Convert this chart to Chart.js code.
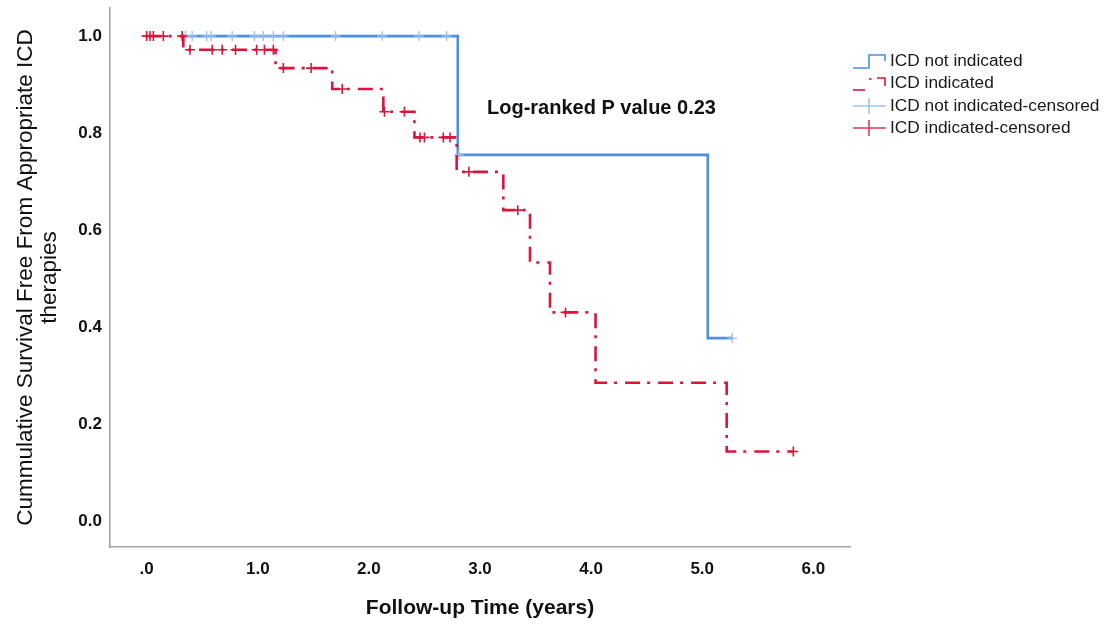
<!DOCTYPE html>
<html>
<head>
<meta charset="utf-8">
<script src="https://cdn.jsdelivr.net/npm/chart.js@4.4.0/dist/chart.umd.min.js"></script>
<style>
  html, body { margin: 0; padding: 0; background: #ffffff; }
  #wrap { width: 1106px; height: 624px; position: relative; }
</style>
</head>
<body>
<div id="wrap"><canvas id="c" width="1106" height="624"></canvas></div>
<script>
// ---- Data ----
const xTickValues = [0, 1, 2, 3, 4, 5, 6];
const xTickLabels = ['.0', '1.0', '2.0', '3.0', '4.0', '5.0', '6.0'];
const yTickValues = [0, 0.2, 0.4, 0.6, 0.8, 1.0];
const yTickLabels = ['0.0', '0.2', '0.4', '0.6', '0.8', '1.0'];

// ICD not indicated: step curve (time, survival after step)
const notIndTimes    = [0.32, 2.80, 5.05, 5.27];
const notIndSurvival = [1.000, 0.755, 0.377, 0.377];
// ICD not indicated: censored observations
const notIndCensTimes    = [0.32, 0.35, 0.41, 0.54, 0.58, 0.77, 0.97, 1.05, 1.14, 1.23, 1.70, 2.12, 2.45, 2.70, 2.81, 5.27];
const notIndCensSurvival = [1.000, 1.000, 1.000, 1.000, 1.000, 1.000, 1.000, 1.000, 1.000, 1.000, 1.000, 1.000, 1.000, 1.000, 0.755, 0.377];

// ICD indicated: step curve
const indTimes    = [0.00, 0.33, 1.16, 1.67, 2.13, 2.41, 2.79, 3.21, 3.45, 3.63, 4.04, 5.22, 5.82];
const indSurvival = [1.000, 0.972, 0.934, 0.891, 0.844, 0.791, 0.720, 0.641, 0.533, 0.430, 0.285, 0.143, 0.143];
// ICD indicated: censored observations
const indCensTimes    = [0.00, 0.03, 0.06, 0.15, 0.32, 0.39, 0.59, 0.68, 0.80, 0.99, 1.06, 1.14, 1.23, 1.48, 1.76, 2.14, 2.32, 2.46, 2.50, 2.67, 2.73, 2.90, 3.34, 3.77, 5.82];
const indCensSurvival = [1.000, 1.000, 1.000, 1.000, 1.000, 0.972, 0.972, 0.972, 0.972, 0.972, 0.972, 0.972, 0.934, 0.934, 0.891, 0.844, 0.844, 0.791, 0.791, 0.791, 0.791, 0.720, 0.641, 0.430, 0.143];

const legendLabels = ['ICD not indicated', 'ICD indicated', 'ICD not indicated-censored', 'ICD indicated-censored'];
const annotationText = 'Log-ranked P value 0.23';
const xTitle = 'Follow-up Time (years)';
const yTitle = ['Cummulative Survival Free From Appropriate ICD', 'therapies'];

// ---- Styles ----
const BLUE = '#4a90e2';
const BLUE_LIGHT = '#9ec2ef';
const RED = '#dc143c';
const AXIS = '#a3a3a3';
const FONT = '"Liberation Sans", Arial, Helvetica, sans-serif';

const zip = (xs, ys) => xs.map((x, i) => ({ x: x, y: ys[i] }));

// Legend + annotation plugin
const overlayPlugin = {
  id: 'overlay',
  afterDraw(chart) {
    const ctx = chart.ctx;
    ctx.save();
    // annotation
    ctx.fillStyle = '#111111';
    ctx.font = 'bold 20px ' + FONT;
    ctx.textBaseline = 'middle';
    ctx.textAlign = 'left';
    ctx.fillText(annotationText, 487, 108);

    // legend icons
    const rows = [61, 83, 106, 128];
    ctx.lineCap = 'butt';
    // blue step icon
    ctx.strokeStyle = BLUE; ctx.lineWidth = 1.6;
    ctx.beginPath();
    ctx.moveTo(853, 68); ctx.lineTo(869, 68); ctx.lineTo(869, 55); ctx.lineTo(885, 55); ctx.lineTo(885, 61);
    ctx.stroke();
    // red dash-dot step icon
    ctx.strokeStyle = RED; ctx.lineWidth = 1.6;
    ctx.beginPath(); ctx.moveTo(853, 90); ctx.lineTo(865, 90); ctx.stroke();
    ctx.beginPath(); ctx.moveTo(869, 79); ctx.lineTo(871.5, 79); ctx.stroke();
    ctx.beginPath(); ctx.moveTo(877, 78); ctx.lineTo(885, 78); ctx.lineTo(885, 86); ctx.stroke();
    // blue censored icon
    ctx.strokeStyle = BLUE_LIGHT; ctx.lineWidth = 1.6;
    ctx.beginPath(); ctx.moveTo(853, 106); ctx.lineTo(886, 106); ctx.moveTo(869, 98); ctx.lineTo(869, 114); ctx.stroke();
    // red censored icon
    ctx.strokeStyle = RED; ctx.lineWidth = 1.6;
    ctx.globalAlpha = 0.85;
    ctx.beginPath(); ctx.moveTo(853, 128); ctx.lineTo(886, 128); ctx.moveTo(869, 120); ctx.lineTo(869, 136); ctx.stroke();
    ctx.globalAlpha = 1;

    // legend text
    ctx.fillStyle = '#1a1a1a';
    ctx.font = '17.3px ' + FONT;
    legendLabels.forEach((t, i) => ctx.fillText(t, 890, rows[i]));
    ctx.restore();
  }
};

new Chart(document.getElementById('c'), {
  type: 'scatter',
  data: {
    datasets: [
      {
        label: legendLabels[0],
        data: zip(notIndTimes, notIndSurvival),
        showLine: true,
        stepped: 'before',
        borderColor: BLUE,
        borderWidth: 2.6,
        pointRadius: 0,
        fill: false,
        order: 4
      },
      {
        label: legendLabels[2],
        data: zip(notIndCensTimes, notIndCensSurvival),
        showLine: false,
        pointStyle: 'cross',
        pointRadius: 5,
        borderColor: BLUE_LIGHT,
        backgroundColor: BLUE_LIGHT,
        pointBorderWidth: 1.4,
        order: 3
      },
      {
        label: legendLabels[1],
        data: zip(indTimes, indSurvival),
        showLine: true,
        stepped: 'before',
        borderColor: RED,
        borderWidth: 2.6,
        borderDash: [15, 7, 3, 8],
        borderCapStyle: 'butt',
        pointRadius: 0,
        fill: false,
        order: 2
      },
      {
        label: legendLabels[3],
        data: zip(indCensTimes, indCensSurvival),
        showLine: false,
        pointStyle: 'cross',
        pointRadius: 5,
        borderColor: RED,
        backgroundColor: RED,
        pointBorderWidth: 1.6,
        order: 1
      }
    ]
  },
  options: {
    responsive: false,
    animation: false,
    events: [],
    layout: { padding: { left: 0, right: 256, top: 8, bottom: 0 } },
    plugins: {
      legend: { display: false },
      tooltip: { enabled: false }
    },
    elements: { point: { hoverRadius: 0 } },
    scales: {
      x: {
        type: 'linear',
        min: -0.33,
        max: 6.33,
        afterBuildTicks: (s) => { s.ticks = xTickValues.map(v => ({ value: v })); },
        afterFit: (s) => { s.height = 77; s.paddingLeft = 0; s.paddingRight = 0; },
        grid: { display: false, drawTicks: false, tickLength: 0 },
        border: { display: true, color: AXIS, width: 1.6 },
        ticks: {
          padding: 12,
          color: '#111111',
          font: { family: FONT, size: 17, weight: 'bold' },
          maxRotation: 0,
          autoSkip: false,
          callback: (v, i) => xTickLabels[i]
        },
        title: {
          display: true,
          text: xTitle,
          color: '#111111',
          font: { family: FONT, size: 21, weight: 'bold' },
          padding: { top: 0, bottom: 3 }
        }
      },
      y: {
        type: 'linear',
        min: -0.054,
        max: 1.058,
        afterBuildTicks: (s) => { s.ticks = yTickValues.map(v => ({ value: v })); },
        afterFit: (s) => { s.width = 110; s.paddingTop = 0; s.paddingBottom = 0; },
        grid: { display: false, drawTicks: false, tickLength: 0 },
        border: { display: true, color: AXIS, width: 1.6 },
        ticks: {
          padding: 8,
          color: '#111111',
          font: { family: FONT, size: 17, weight: 'bold' },
          autoSkip: false,
          callback: (v, i) => yTickLabels[i]
        },
        title: {
          display: true,
          text: yTitle,
          color: '#111111',
          font: { family: FONT, size: 22.5, weight: 'normal', lineHeight: 1.07 },
          padding: { top: 14, bottom: 0 }
        }
      }
    }
  },
  plugins: [overlayPlugin]
});
</script>
</body>
</html>
